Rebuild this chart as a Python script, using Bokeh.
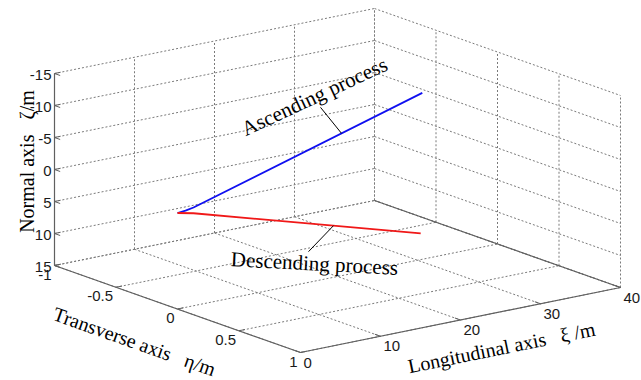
import numpy as np
from bokeh.plotting import figure
from bokeh.models import Range1d
from bokeh.embed import file_html
from bokeh.resources import INLINE
from bokeh.core.properties import value

# ---- axis ticks -------------------------------------------------------------
eta_ticks = [-1, -0.5, 0, 0.5, 1]          # transverse axis  η (m)
xi_ticks = [0, 10, 20, 30, 40]             # longitudinal axis ξ (m)
zeta_ticks = [-15, -10, -5, 0, 5, 10, 15]  # normal axis ζ (m), drawn downward
eta_labels = ["-1", "-0.5", "0", "0.5", "1"]
xi_labels = ["0", "10", "20", "30", "40"]
zeta_labels = ["-15", "-10", "-5", "0", "5", "10", "15"]

# ---- trajectories (η, ξ, ζ) -------------------------------------------------
asc_eta = [0, 0, 0, 0]
asc_xi = [0, 1.0, 2.0, 30.6]
asc_zeta = [0, -0.12, -0.35, -11.0]

desc_eta = [0, 0, 0]
desc_xi = [0, 2.0, 30.4]
desc_zeta = [0, 0.55, 10.9]

# ---- oblique view of the box: screen vectors for each unit axis span --------
ORIGIN = np.array([54.0, 265.0])   # η=-1, ξ=0, ζ=15
U = np.array([246.0, 87.0])        # η: -1 -> 1
V = np.array([320.0, -65.0])       # ξ: 0 -> 40
W = np.array([0.0, -192.0])        # ζ: 15 -> -15

NB = "\u00a0"  # keeps the wide gaps in the axis titles


def project(eta, xi, zeta):
    eta = np.atleast_1d(np.asarray(eta, dtype=float))
    xi = np.atleast_1d(np.asarray(xi, dtype=float))
    zeta = np.atleast_1d(np.asarray(zeta, dtype=float))
    u = (eta + 1) / 2
    v = xi / 40
    w = (15 - zeta) / 30
    sx = ORIGIN[0] + u * U[0] + v * V[0] + w * W[0]
    sy = ORIGIN[1] + u * U[1] + v * V[1] + w * W[1]
    return sx, sy


def seg(p0, p1):
    x0, y0 = project(*p0)
    x1, y1 = project(*p1)
    return [float(x0[0]), float(x1[0])], [float(y0[0]), float(y1[0])]


E0, E1 = eta_ticks[0], eta_ticks[-1]
X0, X1 = xi_ticks[0], xi_ticks[-1]
Z0, Z1 = zeta_ticks[-1], zeta_ticks[0]   # floor ζ=15, top ζ=-15

p = figure(width=641, height=380, x_range=Range1d(0, 641), y_range=Range1d(380, 0),
           output_backend="svg", toolbar_location=None, min_border=0,
           x_axis_location=None, y_axis_location=None, outline_line_color=None)
p.grid.visible = False
p.background_fill_color = "white"
p.border_fill_color = "white"

# ---- dotted grid on the floor and the two back walls ------------------------
gx, gy = [], []
for e in eta_ticks:
    a, b = seg((e, X0, Z0), (e, X1, Z0)); gx.append(a); gy.append(b)   # floor
    a, b = seg((e, X1, Z0), (e, X1, Z1)); gx.append(a); gy.append(b)   # right wall
for x in xi_ticks:
    a, b = seg((E0, x, Z0), (E1, x, Z0)); gx.append(a); gy.append(b)   # floor
    a, b = seg((E0, x, Z0), (E0, x, Z1)); gx.append(a); gy.append(b)   # left wall
for z in zeta_ticks:
    a, b = seg((E0, X0, z), (E0, X1, z)); gx.append(a); gy.append(b)   # left wall
    a, b = seg((E0, X1, z), (E1, X1, z)); gx.append(a); gy.append(b)   # right wall
p.multi_line(gx, gy, line_color="#7a7a7a", line_width=1, line_dash="2 2")

# ---- axis lines --------------------------------------------------------------
ax, ay = [], []
for p0, p1 in [((E0, X0, Z0), (E0, X0, Z1)),
               ((E0, X0, Z0), (E1, X0, Z0)),
               ((E1, X0, Z0), (E1, X1, Z0)),
               ((E0, X1, Z0), (E1, X1, Z0))]:
    a, b = seg(p0, p1); ax.append(a); ay.append(b)
p.multi_line(ax, ay, line_color="#606060", line_width=1.2)

# tick marks
tk = 6.0
tx, ty = [], []
zx, zy = project([E0] * len(zeta_ticks), [X0] * len(zeta_ticks), zeta_ticks)
for x0, y0 in zip(zx, zy):
    for d in (U, V):
        n = d / np.hypot(*d)
        tx.append([x0, x0 + tk * n[0]]); ty.append([y0, y0 + tk * n[1]])
ex, ey = project(eta_ticks, [X0] * len(eta_ticks), [Z0] * len(eta_ticks))
for x0, y0 in zip(ex, ey):
    n = V / np.hypot(*V)
    tx.append([x0, x0 + tk * n[0]]); ty.append([y0, y0 + tk * n[1]])
xx, xy = project([E1] * len(xi_ticks), xi_ticks, [Z0] * len(xi_ticks))
for x0, y0 in zip(xx, xy):
    n = -U / np.hypot(*U)
    tx.append([x0, x0 + tk * n[0]]); ty.append([y0, y0 + tk * n[1]])
p.multi_line(tx, ty, line_color="#606060", line_width=1)

# ---- tick labels -------------------------------------------------------------
tick_font = value("Liberation Sans")
p.text(x=zx - 3, y=zy + 1, text=zeta_labels, text_font=tick_font, text_font_size="15px",
       text_align="right", text_baseline="middle", text_color="#1a1a1a")
p.text(x=ex - 3, y=ey + 9, text=eta_labels, text_font=tick_font, text_font_size="15px",
       text_align="right", text_baseline="middle", text_color="#1a1a1a")
p.text(x=xx + 3, y=xy + 10, text=xi_labels, text_font=tick_font, text_font_size="15px",
       text_align="left", text_baseline="middle", text_color="#1a1a1a")

# ---- axis titles -------------------------------------------------------------
serif = value("Liberation Serif")
p.text(x=[26], y=[161], text=[f"Normal axis{NB*3}ζ/m"], angle=np.pi / 2, text_font=serif,
       text_font_size="20px", text_align="center", text_baseline="alphabetic",
       text_color="black")
ang_u = np.arctan2(U[1], U[0])
p.text(x=[134], y=[341], text=[f"Transverse axis{NB*3}η/m"], angle=-ang_u, text_font=serif,
       text_font_size="20px", text_align="center", text_baseline="middle",
       text_color="black")
ang_v = np.arctan2(-V[1], V[0])
p.text(x=[501], y=[347], text=[f"Longitudinal axis{NB*3}ξ /m"], angle=ang_v, text_font=serif,
       text_font_size="20px", text_align="center", text_baseline="middle",
       text_color="black")

# ---- trajectories ------------------------------------------------------------
bx, by = project(asc_eta, asc_xi, asc_zeta)
rx, ry = project(desc_eta, desc_xi, desc_zeta)
p.line(bx, by, line_color="#1010f0", line_width=1.8)
p.line(rx, ry, line_color="#f01818", line_width=1.8)

# ---- callouts ----------------------------------------------------------------
ax_pt = project(0, 20.5, np.interp(20.5, asc_xi, asc_zeta))
dx_pt = project(0, 19.5, np.interp(19.5, desc_xi, desc_zeta))
p.segment(x0=[ax_pt[0][0] - 21, dx_pt[0][0] - 25], y0=[ax_pt[1][0] - 26, dx_pt[1][0] + 26],
          x1=[ax_pt[0][0], dx_pt[0][0]], y1=[ax_pt[1][0], dx_pt[1][0]],
          line_color="black", line_width=1)
p.text(x=[314], y=[96], text=["Ascending process"], angle=np.deg2rad(25), text_font=serif,
       text_font_size="21px", text_align="center", text_baseline="middle", text_color="black")
p.text(x=[314], y=[263], text=["Descending process"], angle=np.deg2rad(-3), text_font=serif,
       text_font_size="21px", text_align="center", text_baseline="middle", text_color="black")

open("out.html", "w").write(file_html(p, INLINE))
